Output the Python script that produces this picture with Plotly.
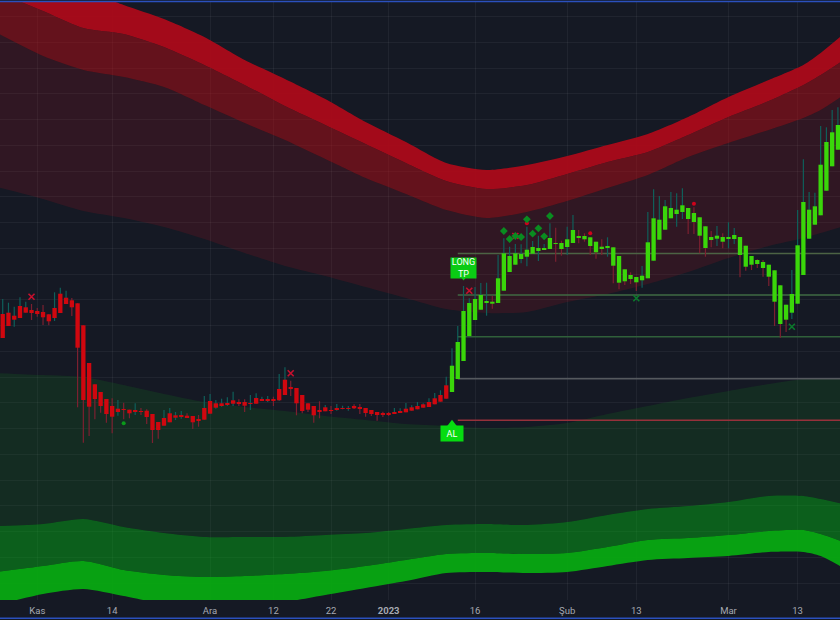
import plotly.graph_objects as go

open_ = [306,307.3,304.3,314,312.7,310,309,308,305.7,312,
 326.3,322.3,319.7,316.7,294.7,257,235.7,228,221,214,
 211.3,210.7,210.3,210,209,209.3,206,198,202,206.7,
 204.7,205,204.3,204,201,212,219,216.7,216.7,217,
 219.7,218,218,217,222,221,221,220.3,231,240.3,
 233,232,225,216.7,214,210,212.7,210,212,212,
 212,214,212.7,212,210,208,207,206.3,208,209,
 211.3,212.7,214,215.7,218,221.7,225,234.7,228,241,
 259,284,300,310.3,317,316.3,317,329.3,348,355.3,
 361,363.3,366.3,369,370.3,371,376,371,373,377,
 382.3,380.7,374,367.7,371.7,372,354.3,337.3,338.7,341,
 337.7,339.7,341.7,359.3,380.3,390.3,401.7,406,408,401,
 398,384.3,372,380,381.3,378.3,381,381,365,353.3,
 355.3,356,352,343.3,318.3,296,300.3,307.3,316.3,345,
 381.3,395.3,404.7,429.3,453.7,470.3]
close = [282,294,300.3,302,307.3,307,306,302.7,298.7,302,
 307,316,312.7,272.3,220,213.3,221,214,206,203.3,
 208,210.3,206.7,208,208.7,203,190,190,194.3,197.7,
 202.3,203,202.7,197.7,199,200.3,206.3,212.3,214,215,
 216.3,216.7,214.3,216.7,216.3,219,219.3,219,219.7,225,
 231.3,216.7,209,210.3,204.7,208.7,208.7,209.7,210.7,211,
 211.3,211.7,211.3,207,206,205,205,205.3,206,207,
 207.7,209.3,210.7,212.3,213,215.7,218.3,221.3,254.3,278,
 309,317,321,325,319,318.3,341.7,366.7,364,366.7,
 366,370.3,373,372,372,382,377,377,380.7,390,
 384,384,382.7,378.3,373.3,373.3,372.7,364,350.7,345,
 343,344.3,377.7,401.7,400.3,413.7,412,410.3,414.7,412,
 407,402.7,393.7,383,384.3,383,383,385,383,374.3,
 364,360,358,355.3,349.7,334.7,315.3,326,374.7,418,
 410.3,413.7,455.3,478,487.7,495]
high = [321,317.3,313.3,322.7,318.3,316,312,315,305.7,327.7,
 332.3,329.3,322,316.7,294.7,257,235.7,228,221,221.7,
 220,217.3,210.3,216.7,212,210.7,206,198,210,212,
 208,209,206.7,204,205,224,226,220,221.3,222.7,
 228.3,220.7,220.7,225,226.7,223.3,224,223.3,246,252.7,
 239.3,232,225,216.7,214,218.7,215,214,216,214.3,
 214,215.7,216,212,210,208,208.3,208,212,211.7,
 217,214.7,218,216.7,221.7,227,229.7,243.3,271.7,294,
 334,321.7,333,337,337.3,324,365,381.7,373.3,376,
 375.7,393.3,379,384.3,376,396.7,392.3,379.3,393.3,405,
 390,386.7,382.7,378.3,380.7,382.7,372.7,364,350.7,347.7,
 343,354,408,430.7,424,420,428,426.7,431.7,412,
 412.7,402.7,393.7,389,394,386.7,397.7,392,383,374.3,
 364,360.7,360,355.3,349.7,334.7,315.3,350,410,460.7,
 428,427.3,494,492.7,510,512.7]
low = [282,294,293.3,302,307.3,300,303.3,295,294.7,299,
 307,316,304,212.7,177.3,184,200.7,207.3,197.3,186.7,
 204.3,200.7,201.7,205,205,196,177,181.3,194.3,197.7,
 200,201.3,202,191,193.3,200.3,206.3,211.3,213.3,214,
 214,214,208,210,216.3,219,218,214,219,225,
 224,204.7,206.7,208,197.3,201.7,208.7,206,209.3,210.7,
 209.3,211,206,203.3,204,199.3,203,204,206,207,
 207.7,209.3,210.7,212.3,213,215.7,218.3,221.3,228,241,
 259,284,300,310.3,304.3,311.3,317,329.3,348,355.3,
 356.7,353.7,366.3,359,370.3,371,358.3,364.3,365,377,
 376.7,378.3,365,361.3,365,363.3,336.7,330.7,335,336,
 329,332.3,341.7,359.3,380.3,390.3,401.7,393.3,401,386,
 386,366.7,363.3,372.7,374,371.7,371.7,376,342.7,349.3,
 350,352,343.3,334,294,282.3,288,301,316.3,345,
 381.3,395.3,404.7,429.3,453.7,470.3]
wick_kind = ("ttttt" "rrrr" "ttt" "rrrrrrrr" "t" "rr" "t" "rrrr" "tttt" "rrr" "tttttt"
             "rr" "tttt" "r" "tt" "rrrrrr" "t" "r" "ttt" "rrrrrrr" "ttttttttttttttttt"
             "r" "tttttttttt" "rr" "tt" "rrrrr" "t" "rrrrr" "tttttttt" "rrrrr" "t" "r"
             "tt" "rrrrrrrrr" "ttttttttt")

band_bars = [-1,7,14,21,28,35,42,49,56,63,70,77,84,91,98,105,112,119,126,133,139,142,146]
red_a = [650,642,630,615,601,583,560,541,521,498,478,457,450,455,464,475,486,503,523,540,555,567,586]
red_b = [628,609,592,586,573,555,535,514,495,476,457,439,431,435,446,458,468,485,503,519,535,545,560]
red_c = [587,564,550,543,533,515,497,480,461,442,426,410,402,408,419,432,445,463,477,490,502,510,525]
red_d = [433,421,409,402,393,381,367,354,344,333,322,311,307,308,318,326,336,348,362,374,382,387,394]
grn_e = [247,245,243,235,226,218,213,209,204,200,196,194,192,193,197,206,214,222,229,236,241,242,242]
grn_f = [94,96,101,93,87,83,83,83,85,87,91,95,96,95,98,105,111,114,118,124,124,121,116]
grn_g = [48,54,59,50,45,43,44,46,49,54,60,66,67,66,67,73,80,82,85,89,90,86,78]
grn_h = [15,26,31,24,16,12,14,18,25,32,39,47,48,47,48,54,60,62,64,68,68,64,52]

level_values = [366.5, 325, 283.3, 241.3, 199.7]
level_start, level_end = 79, 147

tick_bars = [6,19,36,47,57,67,82,98,110,126,138]
tick_labels = ["Kas","14","Ara","12","22","<b>2023</b>","16","Şub","13","Mar","13"]

red_x_bars = [5,50,81,89]
red_x_vals = [323.3,246.7,329.3,384]
green_x_bars = [110,137]
green_x_vals = [321.7,293.3]
red_dot_bars = [91,102,120]
red_dot_vals = [396.7,386.7,416.3]
green_dot_bars = [21]
green_dot_vals = [196.7]
diamond_bars = [87,88,89,90,91,92,93,94,95]
diamond_vals = [389,381,384,383,400.7,386.3,391.7,383.7,404]

BG = "#151924"
UP, DOWN = "#3ad60a", "#d0070f"
TEAL, WICKRED = "#0f5f5a", "#7c2030"

fig = go.Figure()

def band(lower, upper, color):
    fig.add_trace(go.Scatter(x=band_bars, y=lower, mode="lines",
                             line=dict(width=0, shape="spline", smoothing=0.7),
                             hoverinfo="skip", zorder=0))
    fig.add_trace(go.Scatter(x=band_bars, y=upper, mode="lines",
                             line=dict(width=0, shape="spline", smoothing=0.7),
                             fill="tonexty", fillcolor=color, hoverinfo="skip", zorder=0))

band(red_d, red_c, "rgba(190,20,30,0.16)")
band(red_c, red_b, "rgba(190,10,20,0.47)")
band(red_b, red_a, "rgba(168,10,26,0.97)")
band(grn_f, grn_e, "rgba(20,120,30,0.20)")
band(grn_g, grn_f, "rgba(5,170,20,0.49)")
band(grn_h, grn_g, "rgba(8,166,18,0.97)")

level_colors = ["#4c6344", "#3f6a43", "#30603a", "#55595e", "#96303a"]
for v, c in zip(level_values, level_colors):
    fig.add_trace(go.Scatter(x=[level_start, level_end], y=[v, v], mode="lines",
                             line=dict(color=c, width=1.5), hoverinfo="skip", zorder=1))

def wick_path(kind):
    xs, ys = [], []
    for i, k in enumerate(wick_kind):
        if k == kind:
            xs += [i, i, None]
            ys += [low[i], high[i], None]
    return xs, ys

for kind, color in (("t", TEAL), ("r", WICKRED)):
    xs, ys = wick_path(kind)
    fig.add_trace(go.Scatter(x=xs, y=ys, mode="lines", line=dict(color=color, width=1.2),
                             hoverinfo="skip", zorder=2))

ups = [i for i in range(len(open_)) if close[i] >= open_[i]]
downs = [i for i in range(len(open_)) if close[i] < open_[i]]
for idx, color in ((ups, UP), (downs, DOWN)):
    fig.add_trace(go.Bar(x=idx,
                         base=[min(open_[i], close[i]) for i in idx],
                         y=[abs(close[i] - open_[i]) for i in idx],
                         width=0.75, marker=dict(color=color, line=dict(width=0)),
                         hoverinfo="skip", zorder=3))

def markers(xs, ys, symbol, color, size, lw=0):
    fig.add_trace(go.Scatter(x=xs, y=ys, mode="markers", hoverinfo="skip", zorder=4,
                             marker=dict(symbol=symbol, color=color, size=size,
                                         line=dict(color=color, width=lw))))

markers(red_x_bars, red_x_vals, "x-thin", "#c8102e", 6, 1.6)
markers(green_x_bars, green_x_vals, "x-thin", "#0b7a2c", 6, 1.6)
markers(red_dot_bars, red_dot_vals, "circle", "#d0021b", 4)
markers(green_dot_bars, green_dot_vals, "circle", "#0a9a1a", 4)
markers(diamond_bars, diamond_vals, "diamond", "#0a8c20", 6)
markers([78], [195.2], "triangle-up", "#06dc10", 10)
markers([80], [342], "triangle-down", "#0acb14", 5)

LABEL_FONT = "Roboto"
fig.add_annotation(x=78, y=187, text="AL", showarrow=False, bgcolor="#06dc10",
                   width=22, height=15, borderpad=0,
                   font=dict(family=LABEL_FONT, size=9, color="#ffffff"))
fig.add_annotation(x=80, y=352.5, text="LONG<br>TP", showarrow=False, bgcolor="#0acb14",
                   width=25, height=20, borderpad=0,
                   font=dict(family=LABEL_FONT, size=9, color="#ffffff"))

fig.update_layout(
    width=840, height=620, margin=dict(l=0, r=0, t=2, b=20),
    paper_bgcolor=BG, plot_bgcolor=BG, showlegend=False, barmode="overlay",
    font=dict(family="Roboto", size=9, color="#a6a9b2"),
    xaxis=dict(range=[-0.47, 145.36], tickmode="array", tickvals=tick_bars, ticktext=tick_labels,
               showgrid=True, gridcolor="rgba(255,255,255,0.05)", gridwidth=1, zeroline=False,
               showline=False, ticks="", ticklabelstandoff=3,
               tickfont=dict(family="Roboto", size=9.5, color="#a6a9b2")),
    yaxis=dict(range=[20, 618], tick0=243, dtick=25.75, showgrid=True,
               gridcolor="rgba(255,255,255,0.05)", gridwidth=1, zeroline=False,
               showline=False, showticklabels=False, ticks=""),
    shapes=[dict(type="line", xref="paper", yref="paper", x0=0, x1=1, y0=y, y1=y,
                 line=dict(color="#2b50bd", width=1.5), layer="above")
            for y in (1.0008, -0.0306)],
)

fig.write_html("out.html", config={"displayModeBar": False},
               post_script="document.body.style.margin='0';document.body.style.overflow='hidden';")
